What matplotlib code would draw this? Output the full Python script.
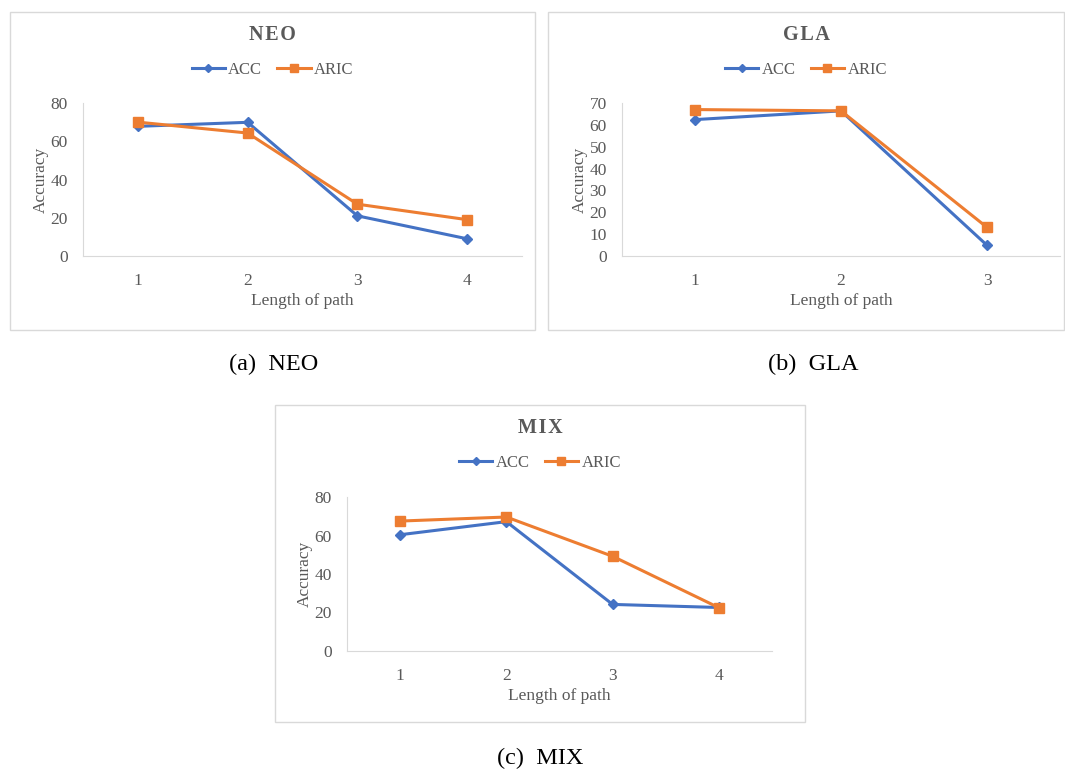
import matplotlib.pyplot as plt
from matplotlib.patches import Rectangle
import numpy as np

plt.rcParams['font.family'] = ['Liberation Serif', 'DejaVu Serif']

# accuracy per path length
neo_len = [1, 2, 3, 4]
neo_acc = [67.8, 69.9, 21.0, 9.0]
neo_aric = [70.0, 64.3, 27.1, 19.0]

gla_len = [1, 2, 3]
gla_acc = [62.4, 66.4, 4.9]
gla_aric = [67.0, 66.4, 13.1]

mix_len = [1, 2, 3, 4]
mix_acc = [60.4, 67.2, 24.2, 22.6]
mix_aric = [67.5, 69.6, 49.2, 22.5]

W, H = 1065, 770
BLUE = '#4472C4'
ORANGE = '#ED7D31'
GREY = '#595959'
EDGE = '#D9D9D9'

fig = plt.figure(figsize=(W / 100, H / 100), dpi=100)


def frac(x0, y0, x1, y1):
    # pixel box (top-left origin) -> figure fraction [l, b, w, h]
    return [x0 / W, 1 - y1 / H, (x1 - x0) / W, (y1 - y0) / H]


def panel(box, plot, title, lens, acc, aric, ymax, ystep, caption, cap_xy):
    l, b, w, h = frac(*box)
    fig.patches.append(Rectangle((l, b), w, h, transform=fig.transFigure,
                                 fill=False, edgecolor=EDGE, lw=1))
    ax = fig.add_axes(frac(*plot))
    ax.plot(lens, acc, color=BLUE, lw=2.2, marker='D', ms=5, label='ACC')
    ax.plot(lens, aric, color=ORANGE, lw=2.2, marker='s', ms=7, label='ARIC')
    ax.set_xlim(0.5, len(lens) + 0.5)
    ax.set_ylim(0, ymax)
    ax.set_xticks(lens)
    ax.set_yticks(np.arange(0, ymax + 1, ystep))
    ax.tick_params(length=0, colors=GREY, labelsize=12.5)
    ax.tick_params(axis='x', pad=12)
    ax.tick_params(axis='y', pad=11)
    for s in ['top', 'right']:
        ax.spines[s].set_visible(False)
    for s in ['left', 'bottom']:
        ax.spines[s].set_color(EDGE)
    ax.set_xlabel('Length of path', color=GREY, fontsize=12.5, labelpad=3)
    ax.set_ylabel('Accuracy', color=GREY, fontsize=12.5, labelpad=1)
    cx = (box[0] + box[2]) / 2
    fig.text(cx / W, 1 - (box[1] + 23) / H, '\u200a'.join(title),
             ha='center', va='center', fontsize=14.5, fontweight='bold',
             color=GREY)
    fig.legend(handles=ax.get_lines(), loc='center',
               bbox_to_anchor=(cx / W, 1 - (box[1] + 58) / H), ncol=2,
               frameon=False, fontsize=12, labelcolor=GREY, handlelength=2.0,
               handletextpad=0.2, columnspacing=0.9, markerscale=0.85)
    fig.text(cap_xy[0] / W, 1 - cap_xy[1] / H, caption, ha='center',
             va='center', fontsize=17.5)


panel((10, 12, 535, 330), (83, 103, 522, 256), 'NEO',
      neo_len, neo_acc, neo_aric, 80, 20, '(a)  NEO', (274, 364))
panel((548, 12, 1064, 330), (622, 103, 1060, 256), 'GLA',
      gla_len, gla_acc, gla_aric, 70, 10, '(b)  GLA', (813, 364))
panel((275, 405, 805, 722), (347, 497, 772, 651), 'MIX',
      mix_len, mix_acc, mix_aric, 80, 20, '(c)  MIX', (540, 758))

fig.savefig('out.png', dpi=100, facecolor='white')
